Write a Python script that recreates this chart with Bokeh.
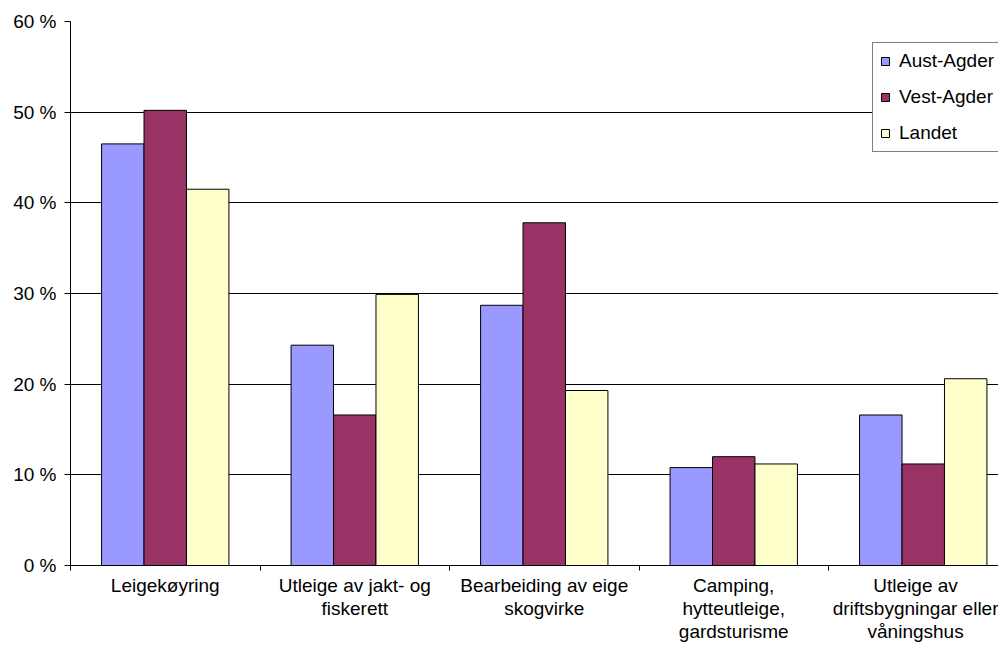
from bokeh.plotting import figure
from bokeh.models import Range1d, FixedTicker, Legend, LegendItem
from bokeh.embed import file_html
from bokeh.resources import INLINE

categories = [
    "Leigekøyring",
    "Utleige av jakt- og\nfiskerett",
    "Bearbeiding av eige\nskogvirke",
    "Camping,\nhytteutleige,\ngardsturisme",
    "Utleige av\ndriftsbygningar eller\nvåningshus",
]
series = ["Aust-Agder", "Vest-Agder", "Landet"]
aust_agder = [46.5, 24.3, 28.7, 10.8, 16.6]
vest_agder = [50.2, 16.6, 37.8, 12.0, 11.2]
landet = [41.5, 29.9, 19.3, 11.2, 20.6]
yticks = [0, 10, 20, 30, 40, 50, 60]
colors = ["#9999FF", "#993366", "#FFFFCC"]

FONT = "Liberation Sans"
FS = "19px"
W, H = 998, 644
left, top = 70, 21
bottom = H - 565
frame_w = W - left
cat_px = 189.5

p = figure(width=W, height=H, output_backend="svg", toolbar_location=None,
           x_range=Range1d(0, frame_w / cat_px), y_range=Range1d(0, 60),
           min_border_left=left, min_border_right=0, min_border_top=top,
           min_border_bottom=bottom)
p.outline_line_color = None
p.background_fill_color = "white"
p.border_fill_color = "white"

bw = 0.224
offsets = [-bw, 0.0, bw]
renderers = []
for vals, off, col in zip([aust_agder, vest_agder, landet], offsets, colors):
    xs = [i + 0.5 + off for i in range(len(vals))]
    r = p.vbar(x=xs, top=vals, width=bw, fill_color=col, line_color="black", line_width=1)
    renderers.append(r)

# grid
p.xgrid.visible = False
p.ygrid.ticker = FixedTicker(ticks=yticks)
p.ygrid.grid_line_color = "black"
p.ygrid.grid_line_width = 1

# x axis: labels at category centres, small ticks at boundaries (minor ticks)
centers = [i + 0.5 for i in range(len(categories))]
xa = p.xaxis[0]
xa.ticker = FixedTicker(ticks=centers, minor_ticks=list(range(len(categories) + 1)))
xa.major_label_overrides = {c: lab for c, lab in zip(centers, categories)}
xa.major_tick_in = 0
xa.major_tick_out = 0
xa.major_tick_line_color = None
xa.minor_tick_in = 0
xa.minor_tick_out = 5
xa.minor_tick_line_color = "black"
xa.axis_line_color = "black"
xa.major_label_text_font = FONT
xa.major_label_text_font_size = FS
xa.major_label_text_color = "black"
xa.major_label_text_line_height = 1.1
xa.major_label_standoff = 4
xa.major_label_orientation = "horizontal"

ya = p.yaxis[0]
ya.ticker = FixedTicker(ticks=yticks)
ya.major_label_overrides = {t: f"{t} %" for t in yticks}
ya.major_tick_in = 0
ya.major_tick_out = 6
ya.minor_tick_line_color = None
ya.axis_line_color = "black"
ya.major_tick_line_color = "black"
ya.major_label_text_font = FONT
ya.major_label_text_font_size = FS
ya.major_label_text_color = "black"
ya.major_label_standoff = 8

legend = Legend(items=[LegendItem(label=s, renderers=[r]) for s, r in zip(series, renderers)],
                location=(802, 413))
legend.label_text_font = FONT
legend.label_text_font_size = FS
legend.label_text_color = "black"
legend.glyph_width = 10
legend.glyph_height = 10
legend.label_standoff = 9
legend.label_height = 21
legend.spacing = 14
legend.padding = 7
legend.margin = 0
legend.border_line_color = "black"
legend.border_line_width = 1
legend.background_fill_color = "white"
legend.background_fill_alpha = 1
p.add_layout(legend)

open("out.html", "w").write(file_html(p, INLINE))
